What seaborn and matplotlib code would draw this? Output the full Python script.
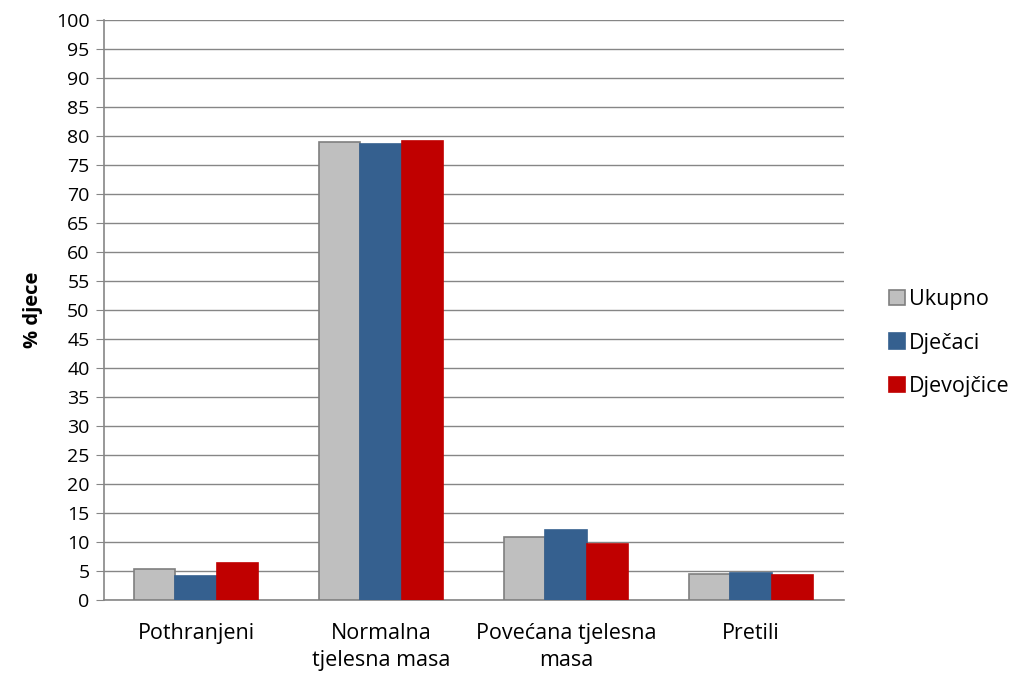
import matplotlib
matplotlib.use("Agg")
import matplotlib.pyplot as plt
import seaborn as sns
import pandas as pd
from matplotlib.patches import Patch

categories = ["Pothranjeni", "Normalna\ntjelesna masa", "Povećana tjelesna\nmasa", "Pretili"]
series = ["Ukupno", "Dječaci", "Djevojčice"]
ukupno = [5.3, 79.0, 10.9, 4.5]
djecaci = [4.1, 78.7, 12.0, 4.7]
djevojcice = [6.4, 79.1, 9.7, 4.3]
colors = ["#BFBFBF", "#35608F", "#C00000"]
edges = ["#7F7F7F", "#35608F", "#C00000"]

rows = []
for s, vals in zip(series, [ukupno, djecaci, djevojcice]):
    for c, v in zip(categories, vals):
        rows.append({"cat": c, "series": s, "val": v})
df = pd.DataFrame(rows)

sns.set_style("white")
plt.rcParams["font.family"] = ["Open Sans", "DejaVu Sans"]
plt.rcParams["text.color"] = "black"
plt.rcParams["xtick.color"] = "black"
plt.rcParams["ytick.color"] = "black"
plt.rcParams["axes.labelcolor"] = "black"

fig = plt.figure(figsize=(10.1, 6.74), dpi=100)
ax = fig.add_axes([103.5/1010, 1-600/674, 740/1010, 580/674])

sns.barplot(data=df, x="cat", y="val", hue="series", order=categories,
            hue_order=series, palette=colors, width=0.665, gap=0,
            legend=False, ax=ax, errorbar=None, saturation=1)

for i, cont in enumerate(ax.containers):
    for p in cont:
        p.set_edgecolor(edges[i])
        p.set_linewidth(1.2)
        p.set_zorder(3)

ax.set_ylim(0, 100)
ax.set_xlim(-0.5, 3.5)
ax.set_yticks(range(0, 101, 5))
ax.yaxis.grid(True, color="#868686", linewidth=1.0)
ax.set_axisbelow(True)
for s in ["top", "right"]:
    ax.spines[s].set_visible(False)
for s in ["left", "bottom"]:
    ax.spines[s].set_color("#868686")
    ax.spines[s].set_linewidth(1.2)
ax.tick_params(axis="y", which="major", left=True, length=6, color="#868686",
               labelsize=14, pad=4, labelcolor="black")
ax.tick_params(axis="x", bottom=False, labelsize=15.5, pad=13, labelcolor="black")
ax.set_xlabel("")
ax.set_ylabel("% djece", fontsize=14.5, fontweight="bold", labelpad=9, color="black")
for t in ax.get_xticklabels():
    t.set_linespacing(1.4)

handles = [Patch(facecolor=c, edgecolor=e, linewidth=1.2, label=s)
           for c, e, s in zip(colors, edges, series)]
fig.legend(handles=handles, loc="center left", bbox_to_anchor=(880/1010, 1-343/674),
           frameon=False, fontsize=15.5, handlelength=0.75, handleheight=0.75,
           handletextpad=0.2, labelspacing=1.05, borderaxespad=0)

fig.savefig("out.png", dpi=100)
